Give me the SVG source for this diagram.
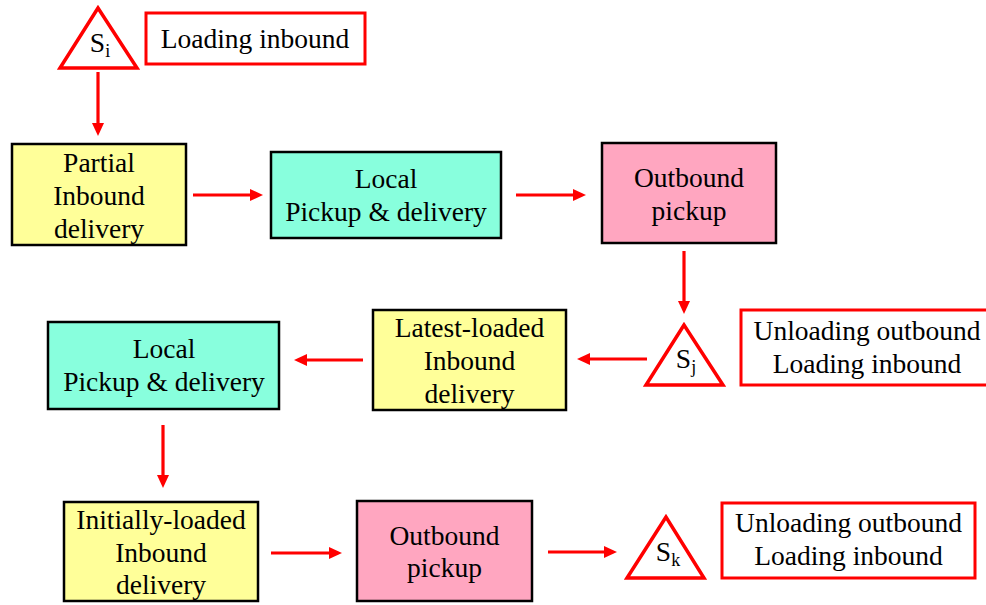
<svg xmlns="http://www.w3.org/2000/svg" width="986" height="605" viewBox="0 0 986 605">
<style>
text{font-family:'Liberation Serif','Times New Roman',serif;font-size:27.5px;fill:#000;text-anchor:middle}
.box{stroke:#000;stroke-width:2.5}
.yel{fill:#FFFF99}
.cyan{fill:#88FFDD}
.pink{fill:#FFA6C0}
.note{fill:#fff;stroke:#FF0000;stroke-width:3}
.tri{fill:#fff;stroke:#FF0000;stroke-width:3.5;stroke-linejoin:miter}
.sub{font-size:18px}
.conn{stroke:#FF0000;stroke-width:3.2;fill:none;marker-end:url(#ah)}
</style>
<defs>
<marker id="ah" markerUnits="userSpaceOnUse" markerWidth="14" markerHeight="13" refX="1" refY="6" orient="auto">
<path d="M0,0 L13,6 L0,12 z" fill="#FF0000"/>
</marker>
</defs>
<rect width="986" height="605" fill="#fff"/>

<g id="connectors">
<line class="conn" x1="98" y1="72" x2="98" y2="124"/>
<line class="conn" x1="193" y1="195" x2="251" y2="195"/>
<line class="conn" x1="516" y1="195" x2="574" y2="195"/>
<line class="conn" x1="684" y1="251" x2="684" y2="302"/>
<line class="conn" x1="647" y1="359" x2="589" y2="359"/>
<line class="conn" x1="363" y1="360" x2="306" y2="360"/>
<line class="conn" x1="163" y1="425" x2="163" y2="476"/>
<line class="conn" x1="271" y1="553" x2="330" y2="553"/>
<line class="conn" x1="548" y1="552" x2="605" y2="552"/>
</g>

<g id="Si">
<polygon class="tri" points="98,8 60,68 137,68"/>
<text x="100" y="52">S<tspan class="sub" dy="5">i</tspan></text>
</g>
<g id="note-i">
<rect class="note" x="146" y="13" width="219" height="51"/>
<text x="255" y="48">Loading inbound</text>
</g>

<g id="partial-inbound">
<rect class="box yel" x="12" y="144" width="174" height="101"/>
<text x="99" y="172">Partial</text>
<text x="99" y="205">Inbound</text>
<text x="99" y="238">delivery</text>
</g>

<g id="local-1">
<rect class="box cyan" x="271" y="152" width="230" height="86"/>
<text x="386" y="188">Local</text>
<text x="386" y="221">Pickup &amp; delivery</text>
</g>

<g id="outbound-1">
<rect class="box pink" x="602" y="143" width="174" height="100"/>
<text x="689" y="187">Outbound</text>
<text x="689" y="220">pickup</text>
</g>

<g id="Sj">
<polygon class="tri" points="684,325 646,385 723,385"/>
<text x="686" y="368">S<tspan class="sub" dy="5">j</tspan></text>
</g>
<g id="note-j">
<rect class="note" x="741" y="310" width="252" height="75"/>
<text x="867" y="340">Unloading outbound</text>
<text x="867" y="373">Loading inbound</text>
</g>

<g id="latest-inbound">
<rect class="box yel" x="373" y="310" width="193" height="100"/>
<text x="469.5" y="337">Latest-loaded</text>
<text x="469.5" y="370">Inbound</text>
<text x="469.5" y="403">delivery</text>
</g>

<g id="local-2">
<rect class="box cyan" x="48" y="322" width="231" height="87"/>
<text x="164" y="358">Local</text>
<text x="164" y="391">Pickup &amp; delivery</text>
</g>

<g id="initially-inbound">
<rect class="box yel" x="64" y="502" width="194" height="99"/>
<text x="161" y="529">Initially-loaded</text>
<text x="161" y="562">Inbound</text>
<text x="161" y="594">delivery</text>
</g>

<g id="outbound-2">
<rect class="box pink" x="357" y="501" width="175" height="100"/>
<text x="444.5" y="545">Outbound</text>
<text x="444.5" y="577">pickup</text>
</g>

<g id="Sk">
<polygon class="tri" points="666,517 627,578 704,578"/>
<text x="668" y="561">S<tspan class="sub" dy="5">k</tspan></text>
</g>
<g id="note-k">
<rect class="note" x="722" y="503" width="253" height="75"/>
<text x="848.5" y="532">Unloading outbound</text>
<text x="848.5" y="565">Loading inbound</text>
</g>
</svg>
